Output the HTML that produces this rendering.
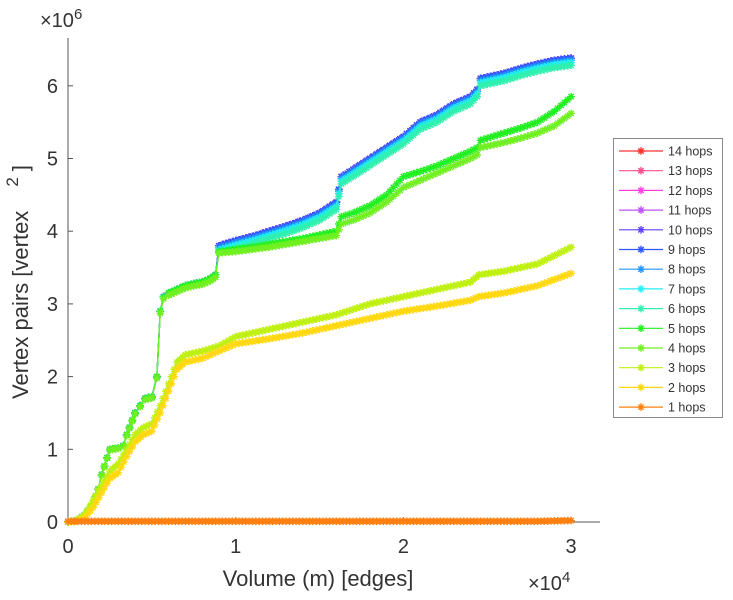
<!DOCTYPE html>
<html><head><meta charset="utf-8"><style>
body{margin:0;background:#fff;}
svg{display:block;font-family:"Liberation Sans",sans-serif;}
</style></head><body>
<svg id="chart" width="733" height="600" viewBox="0 0 733 600" xmlns="http://www.w3.org/2000/svg">
<g id="axes"></g>
<g id="plot"></g>
<g id="legend"></g>
</svg>
<script>
// x in units of 1e3 edges, y in units of 1e6 vertex pairs
const xEarly = [0,0.5,1,1.5,1.8,2,2.5,3,3.3,3.5,4,4.3,4.6,5,5.3,5.5,5.7,6,6.5,7,7.5,8,8.5,8.8];
const yEarlyHigh = [0,0.02,0.1,0.25,0.45,0.65,1.0,1.02,1.05,1.2,1.5,1.6,1.7,1.72,2.0,2.9,3.1,3.15,3.2,3.25,3.28,3.3,3.35,3.4];
const xLate = [9,10,11,12,13,14,15,16,16.3,17,18,19,20,21,22,23,24,24.4,24.6,25,26,27,28,29,30];
const yTop = [3.8,3.87,3.93,4.0,4.07,4.15,4.25,4.4,4.75,4.85,5.0,5.15,5.3,5.5,5.6,5.75,5.85,5.95,6.1,6.12,6.17,6.24,6.3,6.35,6.38];
const yFive = [3.72,3.75,3.78,3.82,3.86,3.9,3.95,4.0,4.2,4.25,4.35,4.5,4.75,4.82,4.9,5.0,5.1,5.15,5.25,5.28,5.35,5.42,5.5,5.65,5.85];
const yFour = [3.7,3.72,3.75,3.78,3.82,3.86,3.9,3.94,4.1,4.15,4.25,4.4,4.6,4.7,4.8,4.9,5.0,5.05,5.15,5.17,5.22,5.28,5.35,5.45,5.62];
const xLow = [0,0.5,1,1.5,2,2.5,3,3.5,4,4.5,5,5.5,6,6.5,7,8,9,10,12,14,16,18,20,22,24,24.5,26,28,30];
const yThree = [0,0.02,0.1,0.3,0.5,0.7,0.8,1.0,1.2,1.3,1.35,1.6,1.9,2.2,2.3,2.35,2.42,2.55,2.65,2.75,2.85,3.0,3.1,3.2,3.3,3.4,3.45,3.55,3.78];
const yTwo = [0,0.01,0.06,0.2,0.4,0.6,0.68,0.9,1.1,1.2,1.25,1.5,1.8,2.1,2.2,2.25,2.35,2.45,2.52,2.6,2.7,2.8,2.9,2.97,3.05,3.1,3.15,3.25,3.42];
const xOne = [0,2,4,6,8,10,12,14,16,18,20,22,24,26,28,30];
const yOne = [0.01,0.01,0.01,0.01,0.01,0.01,0.01,0.01,0.01,0.01,0.01,0.01,0.01,0.01,0.01,0.02];
const topOffsets = [0,0,0,0,0,0,-0.03,-0.06,-0.1]; // hops 14..6 shift vs top
const seriesNames = ["14 hops","13 hops","12 hops","11 hops","10 hops","9 hops","8 hops","7 hops","6 hops","5 hops","4 hops","3 hops","2 hops","1 hops"];
const seriesColors = ["#ff3030","#ff4f8f","#ff40e0","#c050ff","#6040ff","#3055ff","#2095ff","#20f0f0","#30f0b0","#20f020","#70f020","#c0f010","#ffd810","#ff8010"];
const xTicks = [0,1,2,3];
const yTicks = [0,1,2,3,4,5,6];

const NS="http://www.w3.org/2000/svg";
const X0=68,X1=600,Y0=522,Y1=38;
const xs = v => X0 + v*16.77;        // v in thousands
const ys = v => Y0 - v*72.7;          // v in millions
function mk(tag,attrs,parent){const e=document.createElementNS(NS,tag);for(const k in attrs)e.setAttribute(k,attrs[k]);parent.appendChild(e);return e;}
const axes=document.getElementById('axes'),plot=document.getElementById('plot'),legend=document.getElementById('legend');

let a=mk('line',{x1:X0,y1:Y0,x2:X1,y2:Y0,stroke:'#555','stroke-width':1},axes);

a=mk('line',{x1:X0,y1:Y0,x2:X0,y2:Y1,stroke:'#555','stroke-width':1},axes);

xTicks.forEach(t=>{const x=xs(t*10);
 let l=mk('line',{x1:x,y1:Y0,x2:x,y2:Y0-5,stroke:'#555'},axes);
 
 let tx=mk('text',{x:x,y:Y0+31,'text-anchor':'middle','font-size':20,fill:'#333'},axes);tx.textContent=t;
 });
yTicks.forEach(t=>{const y=ys(t);
 let l=mk('line',{x1:X0,y1:y,x2:X0+5,y2:y,stroke:'#555'},axes);
 
 let tx=mk('text',{x:X0-10,y:y+7,'text-anchor':'end','font-size':20,fill:'#333'},axes);tx.textContent=t;
 });
let t=mk('text',{x:40,y:27,'font-size':20,fill:'#333'},axes);t.innerHTML='×10<tspan dy="-8" font-size="15">6</tspan>';

t=mk('text',{x:528,y:590,'font-size':20,fill:'#333'},axes);t.innerHTML='×10<tspan dy="-8" font-size="15">4</tspan>';

t=mk('text',{x:318,y:586,'text-anchor':'middle','font-size':22,fill:'#333'},axes);t.textContent='Volume (m) [edges]';

t=mk('text',{x:0,y:0,'text-anchor':'middle','font-size':22,fill:'#333',transform:'translate(28,282) rotate(-90)'},axes);t.innerHTML='Vertex pairs [vertex <tspan dy="-10" dx="18" font-size="17">2</tspan><tspan dy="10" dx="6">]</tspan>';


function seriesData(i){
 if(i<=8){const off=topOffsets[i];return {x:xEarly.concat(xLate),y:yEarlyHigh.concat(yTop.map(v=>v+off))};}
 if(i===9)return {x:xEarly.concat(xLate),y:yEarlyHigh.concat(yFive)};
 if(i===10)return {x:xEarly.concat(xLate),y:yEarlyHigh.map(v=>v*0.99).concat(yFour)};
 if(i===11)return {x:xLow,y:yThree};
 if(i===12)return {x:xLow,y:yTwo};
 return {x:xOne,y:yOne};
}
function star(g,cx,cy,col){const r=3.8;
 const d=`M${cx-r},${cy}H${cx+r}M${cx},${cy-r}V${cy+r}M${cx-r*.7},${cy-r*.7}L${cx+r*.7},${cy+r*.7}M${cx-r*.7},${cy+r*.7}L${cx+r*.7},${cy-r*.7}`;
 const p=mk('path',{d:d,stroke:col,'stroke-width':1.4,fill:'none'},g);
 }
for(let i=0;i<seriesNames.length;i++){
 const d=seriesData(i),col=seriesColors[i];
 const g=mk('g',{},plot);
 
 const pts=d.x.map((x,k)=>xs(x)+','+ys(d.y[k])).join(' ');
 const pl=mk('polyline',{points:pts,fill:'none',stroke:col,'stroke-width':1.3},g);
 
 for(let k=0;k<d.x.length;k++){
  const x0=d.x[k],y0=d.y[k];star(g,xs(x0),ys(y0),col);
  if(k+1<d.x.length){const n=Math.max(1,Math.round((d.x[k+1]-x0)*5));
   for(let j=1;j<n;j++){const f=j/n;star(g,xs(x0+(d.x[k+1]-x0)*f),ys(y0+(d.y[k+1]-y0)*f),col);}}
 }
}
let box=mk('rect',{x:613.5,y:138.5,width:109,height:279,fill:'#fff',stroke:'#888'},legend);

seriesNames.forEach((nm,i)=>{const y=151+i*19.7,col=seriesColors[i];
 const g=mk('g',{},legend);
 
 mk('line',{x1:619,y1:y,x2:663,y2:y,stroke:col,'stroke-width':1.2},g);
 star(g,641,y,col);
 const tx=mk('text',{x:668,y:y+4.5,'font-size':12.5,fill:'#333'},g);tx.textContent=nm;
 });
</script>
</body></html>
